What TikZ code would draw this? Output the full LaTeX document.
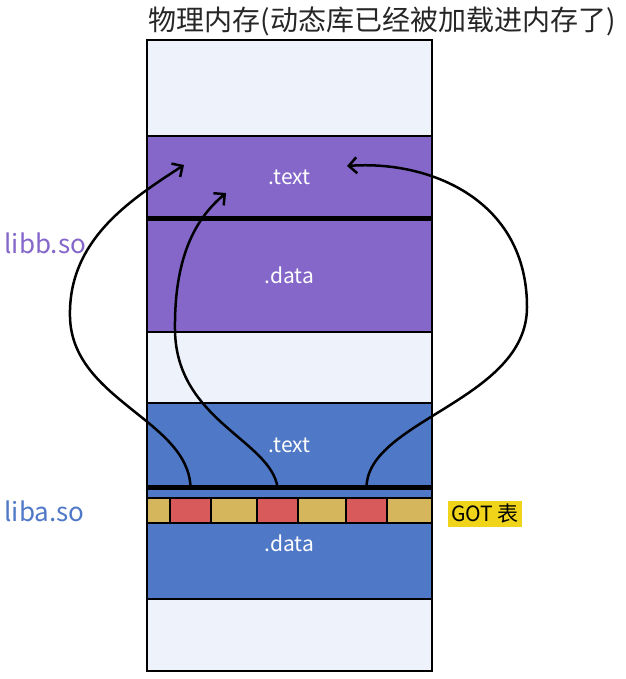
\documentclass[tikz,border=0pt]{standalone}
\usepackage{xcolor}
\usepackage{fontspec}
\setmainfont{Noto Sans CJK SC}
\usepackage{tikz}
\usetikzlibrary{arrows.meta, positioning}

\definecolor{memBg}{HTML}{EEF3FB}
\definecolor{libbPurple}{HTML}{8467C9}
\definecolor{libaBlue}{HTML}{4F78C6}
\definecolor{gotYellow}{HTML}{D6B65C}
\definecolor{gotRed}{HTML}{D95A5A}
\definecolor{gotMark}{HTML}{F0D41A}

\begin{document}
\begin{tikzpicture}[
    x=1pt, y=-1pt,
    seg/.style={rectangle, draw=black, line width=2pt, minimum width=285pt, inner sep=0pt, outer sep=0pt, text=white, font=\fontsize{21}{25}\selectfont},
    freeseg/.style={seg, fill=memBg},
    bseg/.style={seg, fill=libbPurple},
    aseg/.style={seg, fill=libaBlue},
    gotcell/.style={rectangle, draw=black, line width=2pt, minimum height=25pt, inner sep=0pt, outer sep=0pt},
    sepline/.style={line width=5pt},
    call/.style={line width=2.5pt, -{Straight Barb[length=8pt, width=16pt]}}
]
\useasboundingbox (0,0) rectangle (625,679);

\node[font=\fontsize{28}{32}\selectfont, text=black!85] (title) at (382,21) {物理内存(动态库已经被加载进内存了)};

% memory column
\node[freeseg, minimum height=96pt, anchor=north] (topFree) at (289.5,40) {};
\node[bseg, minimum height=82pt, below=0pt of topFree] (bText) {.text};
\node[bseg, minimum height=114pt, below=0pt of bText] (bData) {.data};
\node[freeseg, minimum height=71pt, below=0pt of bData] (midFree) {};
\node[aseg, minimum height=84pt, below=0pt of midFree] (aText) {.text};
\node[aseg, minimum height=112pt, below=0pt of aText] (aData) {.data};
\node[freeseg, minimum height=72pt, below=0pt of aData] (bottomFree) {};

\draw[sepline] (bText.south west) -- (bText.south east);
\draw[sepline] (aText.south west) -- (aText.south east);

% GOT entries
\foreach \x/\w/\c [count=\i] in {147/23/gotYellow, 170/41/gotRed, 211/46/gotYellow, 257/41/gotRed, 298/48/gotYellow, 346/41/gotRed, 387/45/gotYellow}
    \node[gotcell, fill=\c, minimum width=\w pt, anchor=north west] (got\i) at (\x,498) {};

\node[anchor=west, fill=gotMark, inner sep=3pt, font=\fontsize{21}{25}\selectfont] (gotLabel) at (448,514) {GOT 表};

\node[anchor=west, text=libbPurple, font=\fontsize{26}{30}\selectfont] (libbLabel) at (1,243) {libb.so};
\node[anchor=west, text=libaBlue, font=\fontsize{26}{30}\selectfont] (libaLabel) at (1,511) {liba.so};

% jumps from GOT into libb .text
\coordinate (tipLeft) at (184,165);
\coordinate (tipMid) at (226,193);
\coordinate (tipRight) at (347,166);

\draw[call] (got2.north |- aText.south) .. controls (188,420) and (72,400) .. (70,317) .. controls (68,240) and (130,200) .. (tipLeft);
\draw[call] (got4.north |- aText.south) .. controls (270,440) and (176,420) .. (175,330) .. controls (174,250) and (200,215) .. (tipMid);
\draw[call] (got6.north |- aText.south) .. controls (368,420) and (527,400) .. (527,307) .. controls (527,200) and (430,160) .. (tipRight);
\end{tikzpicture}
\end{document}
